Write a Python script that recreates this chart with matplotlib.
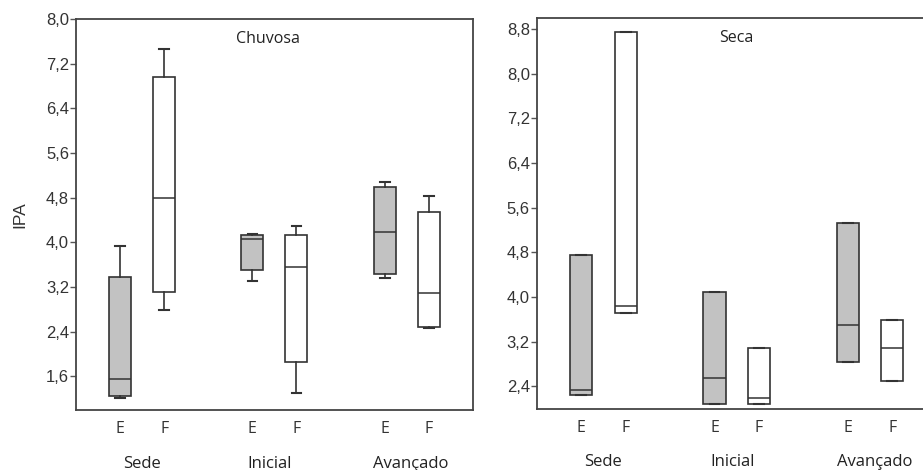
import matplotlib
matplotlib.use('Agg')
from matplotlib import pyplot as plt
from matplotlib import transforms

# valores (IPA)
grupos = ['Sede', 'Inicial', 'Avançado']
tipos = ['E', 'F', 'E', 'F', 'E', 'F']
posicoes = [1, 2, 4, 5, 7, 8]
centros_grupo = [1.5, 4.4, 7.6]

# estação chuvosa: whislo, q1, med, q3, whishi
chuv_min = [1.22, 2.79, 3.31, 1.31, 3.36, 2.47]
chuv_q1 = [1.25, 3.11, 3.50, 1.86, 3.43, 2.49]
chuv_med = [1.55, 4.80, 4.07, 3.56, 4.19, 3.10]
chuv_q3 = [3.38, 6.97, 4.14, 4.13, 5.00, 4.54]
chuv_max = [3.93, 7.47, 4.15, 4.29, 5.09, 4.83]

# estação seca (sem bigodes)
seca_q1 = [2.25, 3.72, 2.09, 2.09, 2.83, 2.50]
seca_med = [2.33, 3.84, 2.55, 2.19, 3.50, 3.08]
seca_q3 = [4.75, 8.75, 4.09, 3.09, 5.33, 3.58]

cores = ['#c2c2c2', 'white'] * 3
cor_linha = '#333333'
fonte_eixo = 'Liberation Sans'
fonte_txt = 'Open Sans'


def monta_stats(lo, q1, med, q3, hi):
    stats = []
    for i in range(len(q1)):
        stats.append({'whislo': lo[i], 'q1': q1[i], 'med': med[i], 'q3': q3[i],
                      'whishi': hi[i], 'fliers': []})
    return stats


def desenha(ax, stats, ylim, yticks, titulo, tx):
    bp = ax.bxp(stats, positions=posicoes, widths=0.5, patch_artist=True,
                showfliers=False, capwidths=0.22,
                boxprops=dict(edgecolor=cor_linha, linewidth=1.2),
                medianprops=dict(color=cor_linha, linewidth=1.1),
                whiskerprops=dict(color=cor_linha, linewidth=1.2),
                capprops=dict(color=cor_linha, linewidth=1.5))
    for caixa, c in zip(bp['boxes'], cores):
        caixa.set_facecolor(c)
    ax.set_xlim(0, 9)
    ax.set_ylim(*ylim)
    ax.set_yticks(yticks)
    ax.set_yticklabels([f'{v:.1f}'.replace('.', ',') for v in yticks],
                       fontfamily=fonte_eixo, fontsize=12, color='#333333')
    ax.set_xticks(posicoes)
    ax.set_xticklabels(tipos, fontfamily=fonte_txt, fontsize=11.5, color='#333333')
    ax.tick_params(axis='x', length=0, pad=8)
    ax.tick_params(axis='y', length=4, width=1, color='#555555', pad=1)
    for s in ax.spines.values():
        s.set_color('#444444')
        s.set_linewidth(1.3)
    trans = transforms.blended_transform_factory(ax.transData, ax.transAxes)
    for g, x in zip(grupos, centros_grupo):
        ax.text(x, -0.137, g, transform=trans, ha='center', va='center',
                fontfamily=fonte_txt, fontsize=12, color='#222222')
    ax.text(tx, 0.948, titulo, transform=trans, ha='center', va='center',
            fontfamily=fonte_txt, fontsize=11.5, color='#222222')


fig = plt.figure(figsize=(9.23, 4.70), dpi=100)
ax1 = fig.add_axes([0.0823, 0.1277, 0.430, 0.8319])
ax2 = fig.add_axes([0.5815, 0.1304, 0.4334, 0.8319])

desenha(ax1, monta_stats(chuv_min, chuv_q1, chuv_med, chuv_q3, chuv_max),
        (1.0, 8.0), [1.6, 2.4, 3.2, 4.0, 4.8, 5.6, 6.4, 7.2, 8.0], 'Chuvosa', 4.35)
desenha(ax2, monta_stats(seca_q1, seca_q1, seca_med, seca_q3, seca_q3),
        (2.0, 9.0), [2.4, 3.2, 4.0, 4.8, 5.6, 6.4, 7.2, 8.0, 8.8], 'Seca', 4.5)

ax1.set_ylabel('IPA', fontfamily=fonte_eixo, fontsize=12.5, color='#333333')
ax1.yaxis.set_label_coords(-0.123, 0.5)

fig.savefig('out.png', dpi=100)
